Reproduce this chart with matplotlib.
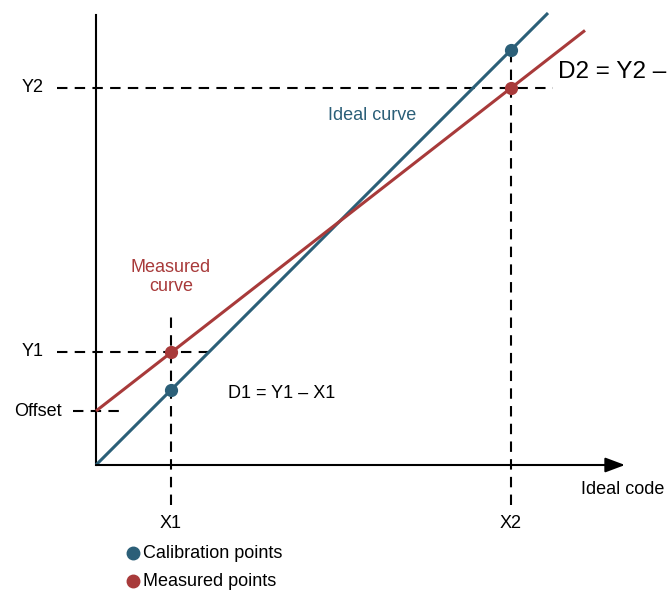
import numpy as np
import matplotlib
matplotlib.use("Agg")
import matplotlib.pyplot as plt

# Diagram values (arbitrary code units, origin at the axes corner)
x_cal = [75, 415]          # X1, X2
y_ideal = [75, 415]        # calibration points on the ideal curve
y_meas = [113, 377]        # Y1, Y2
offset = 54
ideal_end = 452
meas_end = 489
tick_names_x = ["X1", "X2"]
tick_names_y = ["Y1", "Y2"]

BLUE = "#2b5f78"
RED = "#a83a3a"
FONT = "Liberation Sans"

slope = (y_meas[1] - offset) / (x_cal[1] - 0)

fig = plt.figure(figsize=(6.7, 5.9), dpi=100)
ax = fig.add_axes([0, 0, 1, 1])
ax.set_xlim(-96, 574)
ax.set_ylim(-125, 465)
ax.axis("off")

# axes
ax.plot([0, 0], [0, 450], color="black", lw=1.5)
ax.annotate("", xy=(529, 0), xytext=(0, 0),
            arrowprops=dict(arrowstyle="-|>,head_length=1.2,head_width=0.45",
                            color="black", lw=1.5, shrinkA=0, shrinkB=0))

dash = (0, (5, 3.5))
# guide lines
ax.plot([-39, 457], [y_meas[1]] * 2, color="black", lw=1.5, ls=dash)
ax.plot([-39, 112], [y_meas[0]] * 2, color="black", lw=1.5, ls=dash)
ax.plot([-23, 30], [offset] * 2, color="black", lw=1.5, ls=dash)
ax.plot([x_cal[0]] * 2, [-40, 152], color="black", lw=1.5, ls=dash)
ax.plot([x_cal[1]] * 2, [-40, 408], color="black", lw=1.5, ls=dash)

# curves
ax.plot([0, ideal_end], [0, ideal_end], color=BLUE, lw=2.2, solid_capstyle="butt")
ax.plot([0, meas_end], [offset, offset + slope * meas_end], color=RED, lw=2.2,
        solid_capstyle="butt")
ax.plot(x_cal, y_ideal, "o", color=BLUE, ms=8.5, zorder=5)
ax.plot(x_cal, y_meas, "o", color=RED, ms=8.5, zorder=5)

fs = 13
for name, yv in zip(tick_names_y, y_meas):
    ax.text(-52, yv, name, ha="right", va="center", fontsize=fs, family=FONT)
ax.text(-34, offset, "Offset", ha="right", va="center", fontsize=fs, family=FONT)
for name, xv in zip(tick_names_x, x_cal):
    ax.text(xv, -58, name, ha="center", va="center", fontsize=fs, family=FONT)
ax.text(485, -25, "Ideal code", ha="left", va="center", fontsize=fs, family=FONT)

ax.text(276, 350, "Ideal curve", ha="center", va="center", fontsize=fs,
        family=FONT, color=BLUE)
ax.text(75, 188, "Measured\ncurve", ha="center", va="center", fontsize=fs,
        family=FONT, color=RED, linespacing=1.2)
ax.text(132, 72, "D1 = Y1 \u2013 X1", ha="left", va="center", fontsize=fs,
        family=FONT)
ax.text(462, 393, "D2 = Y2 \u2013 X2", ha="left", va="center", fontsize=17.5,
        family=FONT)

# legend
ax.plot([37], [-88], "o", color=BLUE, ms=9)
ax.text(47, -88, "Calibration points", ha="left", va="center", fontsize=fs,
        family=FONT)
ax.plot([37], [-116], "o", color=RED, ms=9)
ax.text(47, -116, "Measured points", ha="left", va="center", fontsize=fs,
        family=FONT)

fig.savefig("out.png", dpi=100)
